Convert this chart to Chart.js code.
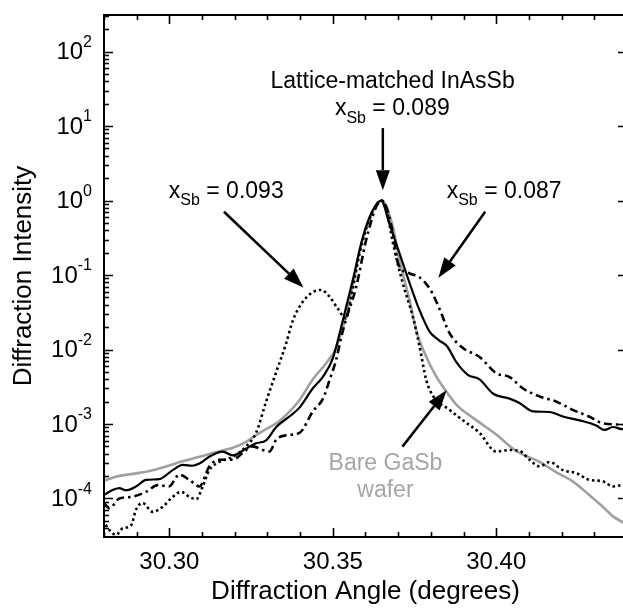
<!DOCTYPE html>
<html>
<head>
<meta charset="utf-8">
<script src="https://cdn.jsdelivr.net/npm/chart.js@4.4.1/dist/chart.umd.min.js"></script>
<style>
html, body { margin: 0; padding: 0; overflow: hidden; background: #fff; }
#wrap { width: 623px; height: 610px; overflow: hidden; }
</style>
</head>
<body>
<div id="wrap"><canvas id="myChart" width="632" height="610"></canvas></div>
<script>
// Lattice-matched InAsSb, x_Sb = 0.089 (solid black)
var angle089 = [30.2800, 30.2830, 30.2847, 30.2867, 30.2898, 30.2929, 30.2969, 30.3010, 30.3041, 30.3070,
  30.3092, 30.3122, 30.3163, 30.3194, 30.3235, 30.3265, 30.3296, 30.3327, 30.3367, 30.3398,
  30.3439, 30.3469, 30.3500, 30.3530, 30.3561, 30.3592, 30.3622, 30.3648, 30.3673, 30.3704,
  30.3735, 30.3765, 30.3796, 30.3826, 30.3850, 30.3878, 30.3913, 30.3949, 30.3990, 30.4041,
  30.4071, 30.4112, 30.4163, 30.4204, 30.4255, 30.4306, 30.4331, 30.4357, 30.4387, 30.4400];
var int089 = [1.12e-4, 1.32e-4, 1.38e-4, 1.29e-4, 1.45e-4, 1.78e-4, 1.82e-4, 2.40e-4, 2.82e-4, 2.75e-4,
  2.95e-4, 3.63e-4, 4.27e-4, 3.80e-4, 4.68e-4, 5.50e-4, 6.03e-4, 9.12e-4, 1.26e-3, 1.66e-3,
  3.02e-3, 4.27e-3, 7.59e-3, 0.024, 0.0851, 0.324, 0.741, 1.0, 0.490, 0.195,
  0.0776, 0.0339, 0.0174, 0.0132, 0.0110, 6.76e-3, 4.57e-3, 3.98e-3, 2.57e-3, 2.19e-3,
  1.91e-3, 1.48e-3, 1.45e-3, 1.26e-3, 1.12e-3, 9.55e-4, 8.32e-4, 9.12e-4, 8.51e-4, 8.51e-4];

// x_Sb = 0.093 (dotted)
var angle093 = [30.2796, 30.2816, 30.2837, 30.2857, 30.2883, 30.2898, 30.2918, 30.2949, 30.2980, 30.3010,
  30.3036, 30.3061, 30.3082, 30.3102, 30.3122, 30.3153, 30.3194, 30.3235, 30.3265, 30.3296,
  30.3327, 30.3357, 30.3377, 30.3408, 30.3439, 30.3464, 30.3490, 30.3515, 30.3540, 30.3556,
  30.3582, 30.3612, 30.3633, 30.3648, 30.3663, 30.3684, 30.3714, 30.3745, 30.3765, 30.3786,
  30.3806, 30.3857, 30.3898, 30.3949, 30.4000, 30.4041, 30.4071, 30.4102, 30.4133, 30.4163,
  30.4204, 30.4245, 30.4284, 30.4326, 30.4357, 30.4387, 30.4400];
var int093 = [5.13e-5, 3.80e-5, 3.24e-5, 3.98e-5, 4.37e-5, 7.08e-5, 8.71e-5, 6.61e-5, 7.76e-5, 1.05e-4,
  1.23e-4, 1.05e-4, 9.77e-5, 1.45e-4, 2.40e-4, 3.09e-4, 3.63e-4, 5.01e-4, 7.59e-4, 2.0e-3,
  5.01e-3, 0.012, 0.024, 0.0437, 0.0589, 0.0631, 0.0513, 0.0355, 0.0263, 0.0501,
  0.195, 0.562, 0.871, 1.0, 0.794, 0.269, 0.0776, 0.0275, 0.0112, 3.89e-3,
  2.40e-3, 1.55e-3, 1.12e-3, 7.59e-4, 4.27e-4, 4.47e-4, 4.37e-4, 3.31e-4, 2.69e-4, 3.09e-4,
  2.40e-4, 2.19e-4, 1.78e-4, 1.70e-4, 1.45e-4, 1.51e-4, 1.48e-4];

// x_Sb = 0.087 (dash-dot)
var angle087 = [30.2800, 30.2816, 30.2847, 30.2883, 30.2929, 30.2964, 30.2999, 30.3030, 30.3061, 30.3092,
  30.3122, 30.3153, 30.3194, 30.3224, 30.3255, 30.3286, 30.3306, 30.3327, 30.3360, 30.3398,
  30.3439, 30.3470, 30.3490, 30.3510, 30.3525, 30.3540, 30.3571, 30.3602, 30.3633, 30.3648,
  30.3663, 30.3684, 30.3700, 30.3735, 30.3765, 30.3796, 30.3826, 30.3857, 30.3898, 30.3949,
  30.4000, 30.4041, 30.4081, 30.4133, 30.4184, 30.4234, 30.4284, 30.4326, 30.4387, 30.4400];
var int087 = [8.71e-5, 7.41e-5, 1.0e-4, 1.05e-4, 1.23e-4, 1.51e-4, 1.45e-4, 2.09e-4, 1.78e-4, 1.45e-4,
  2.69e-4, 3.31e-4, 3.31e-4, 4.07e-4, 5.01e-4, 4.47e-4, 4.27e-4, 6.17e-4, 7.08e-4, 7.59e-4,
  1.48e-3, 2.19e-3, 3.89e-3, 7.24e-3, 0.0141, 0.0251, 0.0676, 0.295, 0.832, 1.0,
  0.832, 0.363, 0.141, 0.105, 0.0933, 0.0661, 0.0355, 0.0166, 0.0105, 7.94e-3,
  4.79e-3, 4.27e-3, 3.02e-3, 2.34e-3, 2.0e-3, 1.55e-3, 1.26e-3, 1.02e-3, 9.77e-4, 9.55e-4];

// Bare GaSb wafer (grey)
var angleBare = [30.2800, 30.2845, 30.2888, 30.2940, 30.2990, 30.3040, 30.3092, 30.3140, 30.3194, 30.3235,
  30.3265, 30.3296, 30.3337, 30.3370, 30.3398, 30.3439, 30.3480, 30.3510, 30.3540, 30.3565,
  30.3582, 30.3612, 30.3633, 30.3648, 30.3663, 30.3685, 30.3704, 30.3735, 30.3755, 30.3786,
  30.3815, 30.3845, 30.3880, 30.3930, 30.4000, 30.4060, 30.4133, 30.4184, 30.4234, 30.4284,
  30.4326, 30.4357, 30.4387, 30.4400];
var intBare = [1.74e-4, 2.0e-4, 2.14e-4, 2.34e-4, 2.69e-4, 3.16e-4, 3.63e-4, 4.17e-4, 4.79e-4, 5.75e-4,
  7.08e-4, 8.51e-4, 1.10e-3, 1.51e-3, 2.09e-3, 3.98e-3, 6.61e-3, 0.0105, 0.0282, 0.0891,
  0.219, 0.575, 0.851, 1.0, 0.851, 0.417, 0.158, 0.0457, 0.0182, 7.94e-3,
  4.47e-3, 2.82e-3, 1.78e-3, 1.20e-3, 7.24e-4, 4.37e-4, 3.09e-4, 2.24e-4, 1.70e-4, 1.12e-4,
  7.76e-5, 5.75e-5, 4.79e-5, 4.37e-5];

var xMin = 30.28, xMax = 30.44;
var yMin = 3.04e-5, yMax = 310;
var xTickLabels = [30.30, 30.35, 30.40];
var yDecades = [-4, -3, -2, -1, 0, 1, 2];

// annotation text and arrows, placed in data units
var notes = [
  { text: 'Lattice-matched InAsSb', x: 30.3683, y: 39.4, color: '#000' },
  { text: 'x', sub: 'Sb', rest: ' = 0.089', x: 30.3682, y: 16.9, color: '#000' },
  { text: 'x', sub: 'Sb', rest: ' = 0.093', x: 30.3174, y: 1.30, color: '#000' },
  { text: 'x', sub: 'Sb', rest: ' = 0.087', x: 30.4024, y: 1.30, color: '#000' },
  { text: 'Bare GaSb', x: 30.3661, y: 2.9e-4, color: '#a6a6a6' },
  { text: 'wafer', x: 30.3661, y: 1.26e-4, color: '#a6a6a6' }
];
var arrows = [
  { x0: 30.3653, y0: 9.4, x1: 30.3653, y1: 1.38 },
  { x0: 30.3167, y0: 0.707, x1: 30.3410, y1: 0.0682 },
  { x0: 30.3966, y0: 0.707, x1: 30.3823, y1: 0.092 },
  { x0: 30.3713, y0: 4.97e-4, x1: 30.3848, y1: 2.83e-3 }
];

var FONT = '"Liberation Sans", Arial, sans-serif';

function pts(xs, ys) {
  return xs.map(function(x, i) { return { x: x, y: ys[i] }; });
}

var framePlugin = {
  id: 'frame',
  afterDatasetsDraw: function(chart) {
    var ctx = chart.ctx, a = chart.chartArea;
    var sx = chart.scales.x, sy = chart.scales.y;
    ctx.save();
    ctx.strokeStyle = '#000';
    ctx.fillStyle = '#000';

    // box
    ctx.lineWidth = 2;
    ctx.strokeRect(a.left, a.top, a.right - a.left, a.bottom - a.top);

    // x ticks, inward on top and bottom
    ctx.lineWidth = 1.6;
    for (var i = 28; i <= 44; i++) {
      var v = 30 + i / 100;
      var px = Math.round(sx.getPixelForValue(v)) + 0.5;
      var len = (i % 5 === 0) ? 9 : 5;
      ctx.beginPath();
      ctx.moveTo(px, a.bottom); ctx.lineTo(px, a.bottom - len);
      ctx.moveTo(px, a.top); ctx.lineTo(px, a.top + len);
      ctx.stroke();
    }
    // y ticks
    for (var d = -5; d <= 2; d++) {
      for (var m = 1; m <= 9; m++) {
        var val = m * Math.pow(10, d);
        if (val < yMin || val > yMax) continue;
        var py = Math.round(sy.getPixelForValue(val)) + 0.5;
        var l = (m === 1) ? 9 : 5;
        ctx.beginPath();
        ctx.moveTo(a.left, py); ctx.lineTo(a.left + l, py);
        if (m === 1) { ctx.moveTo(a.right, py); ctx.lineTo(a.right - l, py); }
        ctx.stroke();
      }
    }

    // x tick labels
    ctx.font = '24px ' + FONT;
    ctx.textAlign = 'center';
    ctx.textBaseline = 'middle';
    xTickLabels.forEach(function(v) {
      ctx.fillText(v.toFixed(2), sx.getPixelForValue(v), a.bottom + 25);
    });

    // y tick labels 10^n
    yDecades.forEach(function(dd) {
      var py = sy.getPixelForValue(Math.pow(10, dd));
      var exp = dd < 0 ? '-' + (-dd) : String(dd);
      ctx.font = '16px ' + FONT;
      var we = ctx.measureText(exp).width;
      var right = a.left - 12;
      ctx.textAlign = 'left';
      ctx.fillText(exp, right - we, py - 9);
      ctx.font = '24px ' + FONT;
      ctx.textAlign = 'right';
      ctx.fillText('10', right - we, py + 1);
    });

    // axis titles
    ctx.font = '26px ' + FONT;
    ctx.textAlign = 'center';
    ctx.fillText('Diffraction Angle (degrees)', (a.left + a.right) / 2, a.bottom + 55);
    ctx.save();
    ctx.translate(24, (a.top + a.bottom) / 2);
    ctx.rotate(-Math.PI / 2);
    ctx.fillText('Diffraction Intensity', 0, 0);
    ctx.restore();

    // annotations
    notes.forEach(function(n) {
      var cx = sx.getPixelForValue(n.x), cy = sy.getPixelForValue(n.y);
      ctx.fillStyle = n.color;
      ctx.textBaseline = 'middle';
      if (!n.sub) {
        ctx.font = '23px ' + FONT;
        ctx.textAlign = 'center';
        ctx.fillText(n.text, cx, cy);
        return;
      }
      ctx.font = '23px ' + FONT;
      var w1 = ctx.measureText(n.text).width, w3 = ctx.measureText(n.rest).width;
      ctx.font = '16px ' + FONT;
      var w2 = ctx.measureText(n.sub).width;
      var x = cx - (w1 + w2 + w3) / 2;
      ctx.textAlign = 'left';
      ctx.font = '23px ' + FONT;
      ctx.fillText(n.text, x, cy);
      ctx.font = '16px ' + FONT;
      ctx.fillText(n.sub, x + w1, cy + 9);
      ctx.font = '23px ' + FONT;
      ctx.fillText(n.rest, x + w1 + w2, cy);
    });

    // arrows
    ctx.fillStyle = '#000';
    ctx.lineWidth = 2.5;
    arrows.forEach(function(ar) {
      var x0 = sx.getPixelForValue(ar.x0), y0 = sy.getPixelForValue(ar.y0);
      var x1 = sx.getPixelForValue(ar.x1), y1 = sy.getPixelForValue(ar.y1);
      var ang = Math.atan2(y1 - y0, x1 - x0);
      var hl = 20, hw = 7;
      var bx = x1 - hl * Math.cos(ang), by = y1 - hl * Math.sin(ang);
      ctx.beginPath();
      ctx.moveTo(x0, y0); ctx.lineTo(bx, by);
      ctx.stroke();
      ctx.beginPath();
      ctx.moveTo(x1, y1);
      ctx.lineTo(bx + hw * Math.sin(ang), by - hw * Math.cos(ang));
      ctx.lineTo(bx - hw * Math.sin(ang), by + hw * Math.cos(ang));
      ctx.closePath();
      ctx.fill();
    });
    ctx.restore();
  }
};

var ctx = document.getElementById('myChart').getContext('2d');
var chart = new Chart(ctx, {
  type: 'scatter',
  data: {
    datasets: [{
      label: 'x_Sb = 0.089',
      data: pts(angle089, int089),
      borderColor: '#000',
      borderWidth: 2.2
    }, {
      label: 'x_Sb = 0.093',
      data: pts(angle093, int093),
      borderColor: '#000',
      borderWidth: 2.6,
      borderDash: [2.5, 3]
    }, {
      label: 'x_Sb = 0.087',
      data: pts(angle087, int087),
      borderColor: '#000',
      borderWidth: 2.6,
      borderDash: [8, 4, 2.5, 4]
    }, {
      label: 'Bare GaSb wafer',
      data: pts(angleBare, intBare),
      borderColor: '#a0a0a0',
      borderWidth: 2.6
    }]
  },
  options: {
    responsive: false,
    animation: false,
    showLine: true,
    layout: { padding: { left: 104, top: 15, right: 5, bottom: 73 } },
    elements: {
      point: { radius: 0, hoverRadius: 0 },
      line: { cubicInterpolationMode: 'monotone', fill: false }
    },
    plugins: { legend: { display: false }, tooltip: { enabled: false } },
    scales: {
      x: { type: 'linear', min: xMin, max: xMax, display: false },
      y: { type: 'logarithmic', min: yMin, max: yMax, display: false }
    }
  },
  plugins: [framePlugin]
});
</script>
</body>
</html>
